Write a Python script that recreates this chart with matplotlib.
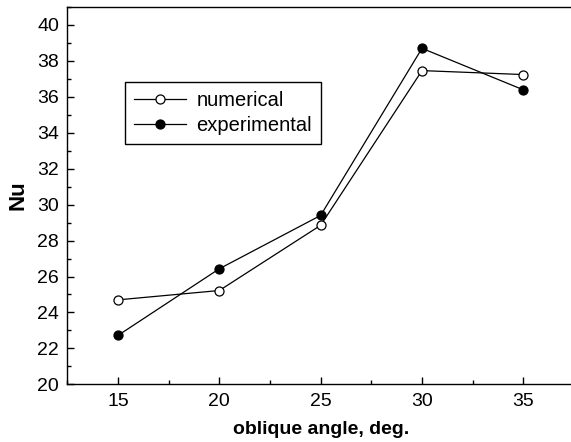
import matplotlib
matplotlib.use("Agg")
import matplotlib.pyplot as plt
from matplotlib.ticker import MultipleLocator

plt.rcParams['font.family'] = ['Liberation Sans', 'DejaVu Sans']

# data
angle = [15, 20, 25, 30, 35]
nu_numerical = [24.7, 25.22, 28.85, 37.46, 37.24]
nu_experimental = [22.72, 26.43, 29.4, 38.7, 36.39]

fig = plt.figure(figsize=(5.71, 4.42), dpi=100)
W, H = 571, 442
# axes extend slightly past the right edge (the original is cropped)
ax = fig.add_axes([67.3 / W, 57.7 / H, (574 - 67.3) / W, 377.3 / H])

ax.plot(angle, nu_numerical, color='black', lw=0.9, marker='o', ms=6.5,
        mfc='white', mec='black', mew=0.9, label='numerical')
ax.plot(angle, nu_experimental, color='black', lw=0.9, marker='o', ms=6.5,
        mfc='black', mec='black', mew=0.9, label='experimental')

ax.set_xlim(12.5, 37.5)
ax.set_ylim(20, 41)
ax.xaxis.set_major_locator(MultipleLocator(5))
ax.xaxis.set_minor_locator(MultipleLocator(2.5))
ax.yaxis.set_major_locator(MultipleLocator(2))
ax.yaxis.set_minor_locator(MultipleLocator(1))
ax.tick_params(which='both', direction='in', top=False, right=False,
               labelsize=14, width=1.0)
ax.tick_params(which='major', length=5, pad=6)
ax.tick_params(which='minor', length=3)
for s in ax.spines.values():
    s.set_linewidth(1.0)

ax.set_xlabel('oblique angle, deg.', fontsize=14, fontweight='bold', labelpad=8)
ax.set_ylabel('Nu', fontsize=16, fontweight='bold', labelpad=6)

leg = ax.legend(loc='upper left', bbox_to_anchor=(125 / W, 1 - 81.7 / H),
                bbox_transform=fig.transFigure, fontsize=14.5, frameon=True,
                fancybox=False, edgecolor='black', framealpha=1,
                handlelength=2.6, borderpad=0.45, labelspacing=0.3,
                handletextpad=0.5, borderaxespad=0)
leg.get_frame().set_linewidth(1.0)

fig.savefig('out.png', dpi=100)
